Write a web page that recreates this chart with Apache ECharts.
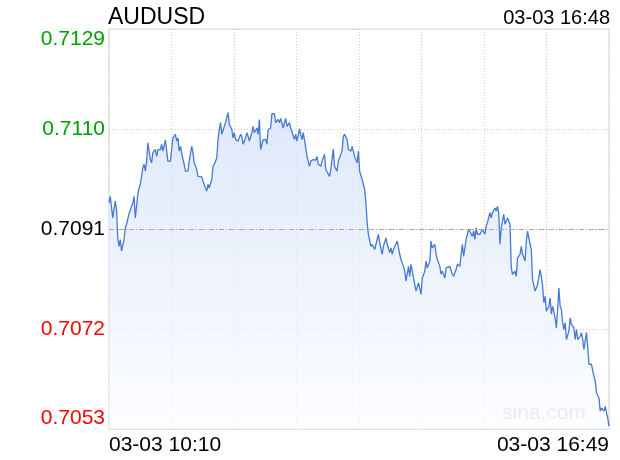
<!DOCTYPE html>
<html>
<head>
<meta charset="utf-8">
<script src="https://cdn.jsdelivr.net/npm/echarts@6/dist/echarts.min.js"></script>
<style>
html,body{margin:0;padding:0;background:#fff;}
#chart{width:620px;height:460px;}
</style>
</head>
<body>
<div id="chart"></div>
<script>
// ---- data ----
const symbolName = 'AUDUSD';
const lastTime = '03-03 16:48';
const xLabels = ['03-03 10:10', '03-03 16:49'];
const sessionMinutes = 399;           // 10:10 -> 16:49
const preClose = 0.7091;
const yTicks = [0.7053, 0.7072, 0.7091, 0.7110, 0.7129];

// minute offsets from 10:10
const minutes = [
  0,1,3,4,5,6,7,8,9,10,
  12,13,14,16,17,19,20,21,23,24,
  25,27,28,29,30,31,33,34,35,37,
  38,39,41,42,43,45,46,47,49,51,
  53,54,55,56,57,59,60,61,63,64,
  66,67,68,70,
  71,74,75,77,78,79,80,82,83,84,
  86,87,88,89,90,92,93,94,95,96,
  98,99,100,101,102,103,105,106,107,109,
  110,111,112,114,115,116,118,119,120,121,
  123,125,126,127,129,130,132,133,135,136,
  137,139,140,
  141,142,144,145,146,148,149,150,152,153,
  154,155,157,158,160,161,163,165,166,167,
  169,170,172,173,174,176,177,179,180,182,
  183,184,186,187,188,190,191,193,194,196,
  197,198,199,200,202,204,205,206,207,
  209,210,212,213,215,216,218,219,221,222,
  224,225,226,227,228,230,231,232,233,235,
  236,237,239,240,241,243,244,245,247,248,
  249,250,252,253,254,256,257,258,260,261,
  262,264,265,266,268,269,270,272,274,275,
  277,278,280,281,282,283,284,285,286,287,
  288,290,291,292,293,294,296,298,299,300,
  301,302,304,305,306,308,309,310,311,312,
  313,315,316,317,318,320,321,322,324,325,
  326,328,329,330,332,333,334,336,337,
  338,340,341,342,344,345,346,347,348,349,
  351,352,353,354,356,357,358,359,360,361,
  362,363,364,365,367,368,369,371,372,373,
  374,376,377,378,379,381,382,383,385,387,
  388,389,391,392,393,395,396,397,398,399
];
const prices = [
  0.70960,0.70972,0.70931,0.70931,0.70963,0.70947,0.70893,0.70877,0.70890,0.70868,
  0.70890,0.70912,0.70919,0.70939,0.70941,0.70960,0.70972,0.70931,0.70976,0.70988,
  0.70995,0.71026,0.71033,0.71020,0.71039,0.71074,0.71042,0.71036,0.71055,0.71061,
  0.71048,0.71061,0.71061,0.71071,0.71058,0.71079,0.71079,0.71039,0.71039,0.71083,
  0.71090,0.71077,0.71083,0.71058,0.71067,0.71042,0.71033,0.71020,0.71020,0.71039,
  0.71067,0.71055,0.71036,0.71023,
  0.71010,0.71009,0.71001,0.70988,0.70982,0.70995,0.70988,0.71004,0.71029,0.71033,
  0.71045,0.71080,0.71099,0.71112,0.71090,0.71105,0.71112,0.71112,0.71131,0.71109,
  0.71099,0.71083,0.71093,0.71080,0.71083,0.71077,0.71090,0.71086,0.71071,0.71083,
  0.71093,0.71086,0.71077,0.71093,0.71105,0.71093,0.71102,0.71090,0.71118,0.71061,
  0.71080,0.71080,0.71071,0.71099,0.71102,0.71129,0.71129,0.71112,0.71118,0.71112,
  0.71120,0.71102,0.71112,
  0.71120,0.71105,0.71112,0.71102,0.71099,0.71080,0.71090,0.71077,0.71100,0.71090,
  0.71080,0.71093,0.71064,0.71048,0.71029,0.71039,0.71042,0.71041,0.71048,0.71033,
  0.71029,0.71039,0.71052,0.71023,0.71020,0.71010,0.71023,0.71062,0.71029,0.71020,
  0.71039,0.71039,0.71058,0.71086,0.71090,0.71080,0.71061,0.71058,0.71067,0.71048,
  0.71048,0.71036,0.71058,0.71020,0.71004,0.70985,0.70960,0.70922,0.70900,
  0.70877,0.70881,0.70871,0.70871,0.70900,0.70884,0.70862,0.70877,0.70893,0.70881,
  0.70865,0.70874,0.70862,0.70871,0.70868,0.70887,0.70890,0.70862,0.70852,0.70839,
  0.70830,0.70811,0.70839,0.70820,0.70843,0.70817,0.70814,0.70792,0.70808,0.70811,
  0.70786,0.70817,0.70830,0.70849,0.70836,0.70849,0.70887,0.70874,0.70881,0.70862,
  0.70852,0.70839,0.70824,0.70830,0.70817,0.70836,0.70839,0.70839,0.70824,0.70820,
  0.70833,0.70843,0.70839,0.70862,0.70881,0.70858,0.70874,0.70890,0.70900,0.70910,
  0.70910,0.70896,0.70906,0.70890,0.70912,0.70900,0.70900,0.70909,0.70909,0.70900,
  0.70915,0.70922,0.70941,0.70931,0.70941,0.70950,0.70944,0.70953,0.70941,0.70881,
  0.70912,0.70938,0.70919,0.70922,0.70931,0.70919,0.70836,0.70824,0.70830,0.70820,
  0.70855,0.70862,0.70877,0.70862,0.70849,0.70887,0.70906,0.70881,0.70871,
  0.70814,0.70792,0.70789,0.70804,0.70833,0.70820,0.70801,0.70770,0.70782,0.70754,
  0.70763,0.70779,0.70748,0.70763,0.70741,0.70722,0.70757,0.70798,0.70763,0.70757,
  0.70732,0.70719,0.70732,0.70700,0.70716,0.70741,0.70729,0.70722,0.70700,0.70719,
  0.70700,0.70706,0.70713,0.70700,0.70681,0.70713,0.70687,0.70653,0.70653,0.70630,
  0.70621,0.70599,0.70589,0.70564,0.70570,0.70564,0.70573,0.70561,0.70551,0.70535
];

// ---- chart ----
const seriesData = minutes.map((m, i) => [m, prices[i]]);
const FONT = 'Liberation Sans, Arial, Helvetica, sans-serif';
const yMin = yTicks[0], yMax = yTicks[yTicks.length - 1];
const yStep = yTicks[1] - yTicks[0];

const chart = echarts.init(document.getElementById('chart'), null, {renderer: 'canvas'});
chart.setOption({
  animation: false,
  backgroundColor: '#ffffff',
  textStyle: {fontFamily: FONT},
  title: [
    {text: symbolName, left: 108, top: 6, padding: 0,
     textStyle: {fontSize: 23, fontWeight: 'normal', color: '#000', fontFamily: FONT}},
    {text: lastTime, right: 10, top: 8, padding: 0,
     textStyle: {fontSize: 20, fontWeight: 'normal', color: '#000', fontFamily: FONT}}
  ],
  grid: {left: 109, top: 29, width: 500, height: 400, show: true,
         borderColor: '#d4d4d4', borderWidth: 1, backgroundColor: 'transparent',
         containLabel: false, outerBoundsMode: 'none'},
  xAxis: {
    type: 'value', min: 0, max: sessionMinutes, interval: sessionMinutes / 8,
    axisLine: {show: false}, axisTick: {show: false},
    splitLine: {show: true, lineStyle: {color: '#cfcfcf', type: [1, 2], width: 1}},
    axisLabel: {
      show: true, margin: 6, fontSize: 21, color: '#000', fontFamily: FONT,
      showMinLabel: true, showMaxLabel: true,
      alignMinLabel: 'left', alignMaxLabel: 'right',
      formatter: function (v) {
        if (Math.abs(v) < 1e-6) return xLabels[0];
        if (Math.abs(v - sessionMinutes) < 1e-6) return xLabels[1];
        return '';
      }
    }
  },
  yAxis: {
    type: 'value', min: yMin, max: yMax, interval: yStep, scale: true,
    axisLine: {show: false}, axisTick: {show: false},
    splitLine: {show: true, lineStyle: {color: '#cfcfcf', type: [1, 2], width: 1}},
    axisLabel: {
      margin: 4, fontSize: 21, fontFamily: FONT,
      verticalAlignMinLabel: 'bottom', verticalAlignMaxLabel: 'top',
      formatter: function (v) { return v.toFixed(4); },
      color: function (v) {
        const val = typeof v === 'string' ? parseFloat(v) : v;
        if (val > preClose + 0.00005) return '#00a000';
        if (val < preClose - 0.00005) return '#ff0000';
        return '#000000';
      }
    }
  },
  graphic: [
    {type: 'text', right: 34, top: 403, silent: true,
     style: {text: 'sina.com', fill: '#c6c6c6', font: '21px ' + FONT}}
  ],
  series: [{
    type: 'line', data: seriesData, showSymbol: false, symbol: 'none',
    lineStyle: {color: '#4579d4', width: 1.3},
    areaStyle: {
      color: new echarts.graphic.LinearGradient(0, 0, 0, 1, [
        {offset: 0, color: '#d0dff7'},
        {offset: 1, color: '#fcfdff'}
      ])
    },
    markLine: {
      silent: true, symbol: 'none', label: {show: false},
      lineStyle: {color: '#a8a8a8', type: [5, 2, 1, 2], width: 1},
      data: [[{coord: [0, preClose]}, {coord: [sessionMinutes, preClose]}]]
    }
  }]
});
</script>
</body>
</html>
